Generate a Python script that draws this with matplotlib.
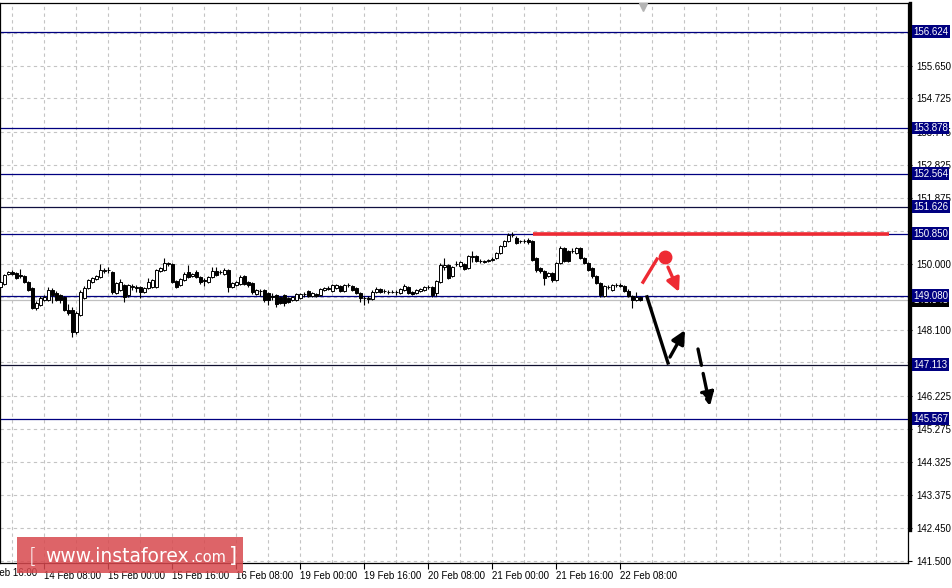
import numpy as np
import matplotlib
matplotlib.use('Agg')
import matplotlib.pyplot as plt
from matplotlib.patches import FancyBboxPatch

plt.rcParams['font.family'] = ['Liberation Sans', 'DejaVu Sans']

# hourly candles (open, high, low, close)
opens = [149.34,149.42,149.71,149.77,149.74,149.68,149.65,149.48,149.31,148.74,
         148.82,148.97,148.97,149.25,149.17,149.11,149.05,148.68,148.68,148.05,
         148.54,149.02,149.31,149.48,149.57,149.62,149.79,149.82,149.77,149.17,
         149.25,149.39,149.11,149.34,149.34,149.34,149.19,149.31,149.34,149.34,
         149.79,149.82,149.99,149.99,149.51,149.39,149.54,149.77,149.65,149.77,
         149.62,149.54,149.48,149.62,149.79,149.77,149.71,149.82,149.34,149.39,
         149.42,149.65,149.48,149.45,149.14,149.22,149.25,149.17,149.08,149.11,
         149.05,149.11,149.02,148.97,148.97,149.02,149.14,149.22,149.08,149.14,
         149.11,149.25,149.28,149.22,149.31,149.37,149.22,149.39,149.37,149.31,
         149.17,149.02,149.02,148.99,149.19,149.28,149.22,149.19,149.19,149.19,
         149.17,149.25,149.34,149.19,149.17,149.22,149.25,149.34,149.34,149.17,
         149.48,149.91,149.97,149.65,149.99,149.94,149.99,149.88,150.19,150.22,
         150.08,150.08,150.08,150.11,150.17,150.31,150.51,150.65,150.82,150.74,
         150.65,150.65,150.68,150.65,150.17,149.88,149.79,149.65,149.74,149.54,
         150.02,150.45,150.37,150.37,150.31,150.45,150.17,150.02,149.88,149.65,
         149.45,149.08,149.34,149.25,149.39,149.39,149.37,149.22,149.08,148.97,
         149.05]
highs = [149.54,149.71,149.79,149.82,149.77,149.85,149.68,149.51,149.34,148.94,
         149.08,149.11,149.34,149.31,149.22,149.14,149.08,148.85,148.77,148.65,
         149.25,149.37,149.57,149.62,149.68,149.99,149.88,149.91,149.79,149.48,
         149.57,149.42,149.42,149.42,149.39,149.37,149.34,149.59,149.57,149.85,
         149.91,150.17,150.05,150.02,149.54,149.59,149.77,149.97,149.74,149.82,
         149.65,149.59,149.65,149.91,149.91,149.82,149.88,149.85,149.48,149.51,
         149.68,149.68,149.51,149.48,149.28,149.28,149.28,149.19,149.17,149.14,
         149.08,149.14,149.05,149.08,149.17,149.17,149.19,149.25,149.19,149.17,
         149.31,149.34,149.37,149.42,149.42,149.39,149.42,149.45,149.39,149.34,
         149.19,149.08,149.08,149.25,149.34,149.31,149.28,149.25,149.25,149.25,
         149.31,149.42,149.37,149.22,149.28,149.31,149.37,149.39,149.37,149.54,
         150.02,150.17,149.99,149.94,150.08,150.08,150.02,150.25,150.37,150.25,
         150.14,150.11,150.14,150.19,150.34,150.54,150.68,150.88,150.91,150.79,
         150.68,150.71,150.74,150.68,150.19,149.91,149.82,149.77,149.77,150.05,
         150.51,150.48,150.39,150.45,150.48,150.48,150.19,150.05,149.91,149.68,
         149.48,149.39,149.39,149.42,149.45,149.45,149.39,149.28,149.11,149.19,
         149.08]
lows = [149.28,149.39,149.68,149.68,149.57,149.59,149.45,149.22,148.71,148.68,
        148.79,148.94,148.94,148.88,148.94,148.88,148.65,148.54,147.90,147.99,
        148.51,148.99,149.28,149.45,149.54,149.59,149.74,149.74,149.14,149.14,
        149.22,148.91,149.05,149.25,149.19,149.02,149.17,149.28,149.31,149.31,
        149.77,149.79,149.94,149.45,149.31,149.37,149.51,149.59,149.62,149.59,
        149.42,149.37,149.45,149.59,149.65,149.71,149.68,149.19,149.31,149.37,
        149.39,149.39,149.34,149.14,149.11,149.08,148.91,148.82,148.97,148.77,
        148.85,148.79,148.88,148.94,148.94,148.99,149.05,149.05,149.05,149.05,
        149.08,149.22,149.25,149.19,149.28,149.19,149.19,149.34,149.22,149.14,
        148.91,148.82,148.88,148.97,149.17,149.17,149.17,149.14,149.17,149.11,
        149.14,149.22,149.14,149.11,149.14,149.19,149.22,149.28,149.05,149.08,
        149.45,149.82,149.57,149.62,149.94,149.91,149.82,149.85,150.05,150.05,
        150.02,150.02,150.05,150.08,150.14,150.28,150.48,150.62,150.77,150.57,
        150.59,150.59,150.57,150.08,149.77,149.74,149.39,149.62,149.48,149.51,
        149.99,150.05,150.05,150.31,150.28,150.14,149.99,149.79,149.59,149.42,
        149.05,149.05,149.28,149.22,149.34,149.34,149.19,149.05,148.74,148.94,
        148.94]
closes = [149.48,149.68,149.77,149.71,149.59,149.65,149.48,149.25,148.74,148.88,
          149.02,149.05,149.25,149.11,148.97,148.97,148.68,148.59,148.05,148.59,
          149.19,149.31,149.54,149.59,149.65,149.82,149.82,149.81,149.19,149.45,
          149.48,149.05,149.39,149.35,149.31,149.19,149.31,149.48,149.54,149.82,
          149.88,150.02,150.02,149.48,149.34,149.57,149.71,149.62,149.71,149.62,
          149.48,149.51,149.62,149.79,149.68,149.76,149.82,149.34,149.45,149.48,
          149.62,149.42,149.39,149.19,149.25,149.21,148.97,148.97,149.05,148.85,
          148.88,148.88,148.91,149.05,149.14,149.14,149.13,149.08,149.17,149.08,
          149.28,149.31,149.31,149.39,149.39,149.22,149.39,149.38,149.25,149.17,
          149.02,149.01,148.99,149.19,149.28,149.19,149.21,149.18,149.20,149.18,
          149.28,149.37,149.17,149.14,149.25,149.28,149.34,149.33,149.11,149.51,
          149.97,149.97,149.59,149.91,150.00,150.05,149.85,150.22,150.22,150.08,
          150.07,150.05,150.11,150.14,150.31,150.51,150.65,150.82,150.81,150.59,
          150.64,150.66,150.62,150.11,149.82,149.79,149.59,149.74,149.54,150.02,
          150.45,150.08,150.08,150.36,150.45,150.17,150.02,149.82,149.65,149.45,
          149.11,149.37,149.33,149.39,149.38,149.37,149.22,149.08,148.97,149.05,
          148.97]

time_labels = ['13 Feb 16:00', '14 Feb 08:00', '15 Feb 00:00', '15 Feb 16:00',
               '16 Feb 08:00', '19 Feb 00:00', '19 Feb 16:00', '20 Feb 08:00',
               '21 Feb 00:00', '21 Feb 16:00', '22 Feb 08:00']
time_pos = [-5, 11, 27, 43, 59, 75, 91, 107, 123, 139, 155]

price_ticks = [141.5, 142.45, 143.375, 144.325, 145.275, 146.225, 147.175,
               148.1, 149.05, 150.0, 150.925, 151.875, 152.825, 153.775,
               154.725, 155.65, 156.6]
# scale labels that sit fully behind a level box are not shown
hidden_ticks = [147.175, 149.05, 150.925, 156.6]

levels = [156.624, 153.878, 152.564, 151.626, 150.850, 149.080, 147.113, 145.567]
level_colors = ['#000080', '#000080', '#000080', '#101040', '#000080',
                '#000080', '#101030', '#000080']
bid = 148.948

# drawn objects: resistance line and scenario arrows (bar index, price)
red_line = ([133.25, 222.25], [150.85, 150.85])
red_stroke = ([160.75, 164.25], [149.47, 150.13])
red_dot = (166.25, 150.19)
red_arrow = ((167.0, 149.90), (169.75, 149.19))
blk_line = ([161.75, 167.0], [149.05, 147.16])
blk_up = ((167.5, 147.33), (171.25, 148.10))
blk_down = ((174.5, 147.56), (177.5, 145.93))

W, H = 953, 588
f = plt.figure(figsize=(W/100, H/100), dpi=100)
ax = f.add_axes([0, 25/H, 908/W, 560/H])
ax.set_xlim(0, 227)
ax.set_ylim(141.443, 157.45)

# grid
for gx in range(3, 227, 8):
    ax.axvline(gx, color='#c4c4c4', lw=0.8, ls=(0, (3, 3)), zorder=0)
for gy in price_ticks:
    ax.axhline(gy, color='#c4c4c4', lw=0.8, ls=(0, (3, 3)), zorder=0)

# levels
for lv, c in zip(levels, level_colors):
    ax.axhline(lv, color=c, lw=0.9, zorder=1)
ax.axhline(bid, color='#c0c0c0', lw=0.9, zorder=1)

# candles
idx = np.arange(len(closes))
o = np.array(opens); c = np.array(closes)
ax.vlines(idx, lows, highs, color='black', lw=0.8, zorder=2)
up = c >= o
ax.bar(idx[up], (c - o)[up], bottom=o[up], width=0.75, color='white',
       edgecolor='black', lw=0.7, zorder=3)
ax.bar(idx[~up], (o - c)[~up], bottom=c[~up], width=0.75, color='black',
       edgecolor='black', lw=0.7, zorder=3)

# drawn analysis objects
red = '#ee2a33'
ax.plot(*red_line, color=red, lw=2.6, solid_capstyle='butt', zorder=4)
ax.plot(*red_stroke, color=red, lw=2.4, zorder=4)
ax.plot(*red_dot, 'o', color=red, ms=9, zorder=4)
ax.annotate('', xy=red_arrow[1], xytext=red_arrow[0], zorder=4,
            arrowprops=dict(arrowstyle='-|>', color=red, lw=2.4,
                            mutation_scale=20, shrinkA=0, shrinkB=0))
ax.plot(*blk_line, color='black', lw=2.4, zorder=4)
ax.annotate('', xy=blk_up[1], xytext=blk_up[0], zorder=4,
            arrowprops=dict(arrowstyle='-|>', color='black', lw=2.4,
                            mutation_scale=20, shrinkA=0, shrinkB=0))
ax.annotate('', xy=blk_down[1], xytext=blk_down[0], zorder=4,
            arrowprops=dict(arrowstyle='-|>', color='black', lw=2.4, ls=(0, (5, 2.5)),
                            mutation_scale=20, shrinkA=0, shrinkB=0))
ax.plot(160.75, 0.993, marker='v', color='#b4b4b4', ms=6,
        transform=ax.get_xaxis_transform(), clip_on=False, zorder=5)

# axes styling
for s in ax.spines.values():
    s.set_color('black'); s.set_linewidth(0.9)
ax.plot([1.002, 1.002], [33/560, 1], color='black', lw=2.4,
        transform=ax.transAxes, clip_on=False, zorder=5)
ax.yaxis.tick_right()
ax.set_yticks(price_ticks)
ax.set_yticklabels(['' if p in hidden_ticks else f'{p:.3f}' for p in price_ticks])
ax.tick_params(axis='y', direction='out', length=3, width=0.8, labelsize=7, pad=3)
ax.set_xticks(time_pos[1:])
ax.set_xticklabels(time_labels[1:], ha='left')
ax.tick_params(axis='x', direction='out', length=4, width=0.8, labelsize=7, pad=2)
ax.text(time_pos[0], -10/560, time_labels[0], fontsize=7, ha='left', va='center',
        transform=ax.get_xaxis_transform(), clip_on=False)

# price labels on the scale
ax.text(1.0 + 5/908, bid, f'{bid:.3f}', transform=ax.get_yaxis_transform(),
        fontsize=7, color='white', va='center', ha='left', clip_on=False, zorder=6,
        bbox=dict(boxstyle='square,pad=0.15', fc='black', ec='none'))
for lv in levels:
    ax.text(1.0 + 5/908, lv, f'{lv:.3f}', transform=ax.get_yaxis_transform(),
            fontsize=7, color='white', va='center', ha='left', clip_on=False, zorder=7,
            bbox=dict(boxstyle='square,pad=0.15', fc='#000080', ec='none'))

# watermark
f.patches.append(FancyBboxPatch((17/W, 15/H), 226/W, 36/H, boxstyle='square,pad=0',
                                transform=f.transFigure, fc='#d8494e', ec='none',
                                alpha=0.85, zorder=10))
f.text(29/W, 32/H, '[', color='white', fontsize=15, va='center', ha='left',
       family='DejaVu Sans', fontweight='light', zorder=11)
f.text(45/W, 32/H, 'www.instaforex', color='white', fontsize=13.5, va='center',
       ha='left', family='DejaVu Sans', zorder=11)
f.text(190/W, 31/H, '.com', color='white', fontsize=10.5, va='center', ha='left',
       family='DejaVu Sans', zorder=11)
f.text(229/W, 32/H, ']', color='white', fontsize=15, va='center', ha='left',
       family='DejaVu Sans', zorder=11)

f.savefig('out.png', dpi=100)
plt.close()
